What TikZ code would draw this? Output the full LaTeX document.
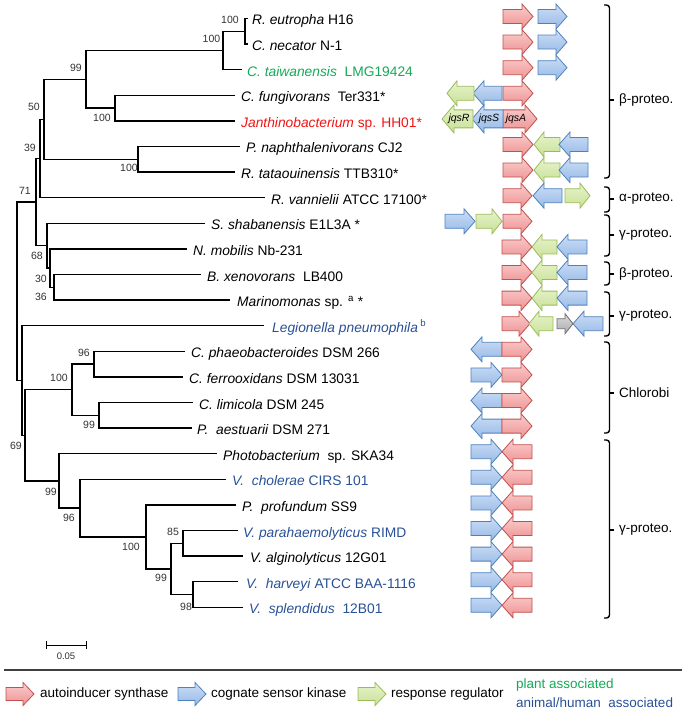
\documentclass[tikz,border=0pt]{standalone}
\usepackage{fontspec}
\setmainfont{Liberation Sans}
\definecolor{redline}{RGB}{192,80,77}
\definecolor{redtop}{RGB}{250,205,205}
\definecolor{redbot}{RGB}{238,145,145}
\definecolor{blueline}{RGB}{79,129,189}
\definecolor{bluetop}{RGB}{205,222,246}
\definecolor{bluebot}{RGB}{150,185,230}
\definecolor{greenline}{RGB}{155,187,89}
\definecolor{greentop}{RGB}{232,243,205}
\definecolor{greenbot}{RGB}{200,225,150}
\definecolor{grayline}{RGB}{110,110,110}
\definecolor{graytop}{RGB}{220,220,220}
\definecolor{graybot}{RGB}{170,170,170}
\definecolor{plantgreen}{RGB}{20,170,85}
\definecolor{hhred}{RGB}{240,20,20}
\definecolor{animalblue}{RGB}{40,80,150}
\newcommand\genearr[7][11]{% head length, style, tail x, tip x, y, body half, head half
  \pgfmathsetmacro\hbx{#4-#1*sign(#4-#3)}%
  \path[#2] (#3,{#5-#6}) -- (\hbx,{#5-#6}) -- (\hbx,{#5-#7}) -- (#4,#5) -- (\hbx,{#5+#7}) -- (\hbx,{#5+#6}) -- (#3,{#5+#6}) -- cycle;}
\newcommand\myga[4]{\genearr{#1}{#2}{#3}{#4}{7}{12.5}}
\newcommand\mygg[4]{\genearr[10]{#1}{#2}{#3}{#4}{7}{12.5}}
\newcommand\mylg[4]{\genearr[11]{#1}{#2}{#3}{#4}{6.5}{11.5}}
\begin{document}
\begin{tikzpicture}[x=1pt,y=-1pt,
  br/.style={line width=1.3pt, black},
  leaf/.style={anchor=base west, inner sep=0pt, font=\fontsize{13.8}{15}\selectfont},
  boot/.style={inner sep=0pt, text=black!80, font=\fontsize{10.5}{12}\selectfont},
  clade/.style={anchor=west, inner sep=0pt, font=\fontsize{13.5}{15}\selectfont},
  brk/.style={line width=1.4pt, rounded corners=3pt},
  redarr/.style={draw=redline, line width=0.8pt, top color=redtop, bottom color=redbot},
  bluearr/.style={draw=blueline, line width=0.8pt, top color=bluetop, bottom color=bluebot},
  greenarr/.style={draw=greenline, line width=0.8pt, top color=greentop, bottom color=greenbot},
  grayarr/.style={draw=grayline, line width=0.8pt, top color=graytop, bottom color=graybot},
  jqs/.style={inner sep=0pt, font=\fontsize{10.5}{12}\selectfont\itshape},
  legtext/.style={anchor=west, inner sep=0pt, font=\fontsize{13.5}{15}\selectfont}]
\useasboundingbox (0,0) rectangle (686,714);

% ---------- leaf end points ----------
\coordinate (L1) at (248,18.5);
\coordinate (L2) at (248,44.1);
\coordinate (L3) at (242,69.7);
\coordinate (L4) at (235,95.3);
\coordinate (L5) at (235,120.9);
\coordinate (L6) at (240,146.5);
\coordinate (L7) at (235,172.1);
\coordinate (L8) at (265,197.7);
\coordinate (L9) at (205,223.3);
\coordinate (L10) at (187,248.9);
\coordinate (L11) at (201,274.5);
\coordinate (L12) at (230,300.1);
\coordinate (L13) at (264,325.7);
\coordinate (L14) at (185,351.3);
\coordinate (L15) at (183,376.9);
\coordinate (L16) at (193,402.5);
\coordinate (L17) at (192,428.1);
\coordinate (L18) at (217,453.7);
\coordinate (L19) at (226,479.3);
\coordinate (L20) at (236,504.9);
\coordinate (L21) at (238,530.5);
\coordinate (L22) at (243,556.1);
\coordinate (L23) at (238,581.7);
\coordinate (L24) at (243,607.3);

% ---------- internal nodes ----------
\coordinate (A) at (245,31.3);
\coordinate (B) at (223,50.5);
\coordinate (C) at (115,108.1);
\coordinate (D) at (86,79.3);
\coordinate (E) at (138,159.3);
\coordinate (F) at (44,119.3);
\coordinate (G) at (40,158.5);
\coordinate (H) at (54,287.3);
\coordinate (N) at (50,268.1);
\coordinate (K) at (47,245.7);
\coordinate (M) at (36,202.1);
\coordinate (P) at (94,364.1);
\coordinate (Q) at (99,415.3);
\coordinate (Chl) at (72,389.7);
\coordinate (V85) at (183,543.3);
\coordinate (V98) at (193,594.5);
\coordinate (V99b) at (171,568.9);
\coordinate (V100) at (146,536.9);
\coordinate (V96) at (80,508.1);
\coordinate (V99) at (59,480.9);
\coordinate (N69) at (25,435.3);
\coordinate (X) at (22,380.5);
\coordinate (R) at (17,291.3);

\draw[br] (A) |- (L1) (A) |- (L2) (B) |- (A) (B) |- (L3)
  (C) |- (L4) (C) |- (L5) (D) |- (B) (D) |- (C)
  (E) |- (L6) (E) |- (L7) (F) |- (D) (F) |- (E)
  (G) |- (F) (G) |- (L8)
  (H) |- (L11) (H) |- (L12) (N) |- (L10) (N) |- (H)
  (K) |- (L9) (K) |- (N) (M) |- (G) (M) |- (K)
  (P) |- (L14) (P) |- (L15) (Q) |- (L16) (Q) |- (L17)
  (Chl) |- (P) (Chl) |- (Q)
  (V85) |- (L21) (V85) |- (L22) (V98) |- (L23) (V98) |- (L24)
  (V99b) |- (V85) (V99b) |- (V98) (V100) |- (L20) (V100) |- (V99b)
  (V96) |- (L19) (V96) |- (V100) (V99) |- (L18) (V99) |- (V96)
  (N69) |- (Chl) (N69) |- (V99) (X) |- (L13) (X) |- (N69)
  (R) |- (M) (R) |- (X);

% ---------- bootstrap values ----------
\node[boot] (b1) at (230,20) {100};
\node[boot] (b2) at (211.5,39) {100};
\node[boot] (b3) at (76,68) {99};
\node[boot] (b4) at (102,118) {100};
\node[boot] (b5) at (34,107) {50};
\node[boot] (b6) at (30,148) {39};
\node[boot] (b7) at (129,168) {100};
\node[boot] (b8) at (25,191) {71};
\node[boot] (b9) at (37,256) {68};
\node[boot] (b10) at (41,279) {30};
\node[boot] (b11) at (41,297) {36};
\node[boot] (b12) at (84,353) {96};
\node[boot] (b13) at (59,378) {100};
\node[boot] (b14) at (89,425) {99};
\node[boot] (b15) at (16,446) {69};
\node[boot] (b16) at (51,492) {99};
\node[boot] (b17) at (69,518) {96};
\node[boot] (b18) at (131,547) {100};
\node[boot] (b19) at (173,532) {85};
\node[boot] (b20) at (161,578) {99};
\node[boot] (b21) at (186,607) {98};

% ---------- leaf labels ----------
\node[leaf] (t1) at (252,25) {\textit{R. eutropha} H16};
\node[leaf] (t2) at (252,50.6) {\textit{C. necator} N-1};
\node[leaf, text=plantgreen] (t3) at (247,76.2) {\textit{C. taiwanensis}\ \ LMG19424};
\node[leaf] (t4) at (241,101.8) {\textit{C. fungivorans}\ \ Ter331*};
\node[leaf, text=hhred] (t5) at (241,127.4) {\textit{Janthinobacterium} sp. HH01*};
\node[leaf] (t6) at (246,153) {\textit{P. naphthalenivorans} CJ2};
\node[leaf] (t7) at (241,178.6) {\textit{R. tataouinensis} TTB310*};
\node[leaf] (t8) at (271,204.2) {\textit{R. vannielii} ATCC 17100*};
\node[leaf] (t9) at (211,229.8) {\textit{S. shabanensis} E1L3A *};
\node[leaf] (t10) at (193,255.4) {\textit{N. mobilis} Nb-231};
\node[leaf] (t11) at (207,281) {\textit{B. xenovorans}\ \ LB400};
\node[leaf] (t12) at (237,306.6) {\textit{Marinomonas} sp. \textsuperscript{a} *};
\node[leaf, text=animalblue] (t13) at (272,332.2) {\textit{Legionella pneumophila}\,\textsuperscript{b}};
\node[leaf] (t14) at (191,357.8) {\textit{C. phaeobacteroides} DSM 266};
\node[leaf] (t15) at (189,383.4) {\textit{C. ferrooxidans} DSM 13031};
\node[leaf] (t16) at (199,409) {\textit{C. limicola} DSM 245};
\node[leaf] (t17) at (197,434.6) {\textit{P.\ \ aestuarii} DSM 271};
\node[leaf] (t18) at (223,460.2) {\textit{Photobacterium}\ \ sp. SKA34};
\node[leaf, text=animalblue] (t19) at (232,485.8) {\textit{V.\ \ cholerae} CIRS 101};
\node[leaf] (t20) at (242,511.4) {\textit{P.\ \ profundum} SS9};
\node[leaf, text=animalblue] (t21) at (243,537) {\textit{V. parahaemolyticus} RIMD};
\node[leaf] (t22) at (250,562.6) {\textit{V. alginolyticus} 12G01};
\node[leaf, text=animalblue] (t23) at (246,588.2) {\textit{V.\ \ harveyi} ATCC BAA-1116};
\node[leaf, text=animalblue] (t24) at (249,613.8) {\textit{V.\ \ splendidus}\ \ 12B01};

% ---------- gene arrows ----------
\foreach \y in {16.5,42.1,67.7} {\myga{redarr}{503}{533}{\y}\myga{bluearr}{538}{567}{\y}}
% row 4
\myga{redarr}{503}{533}{93.3}\myga{bluearr}{502}{473}{93.3}\mygg{greenarr}{474}{447}{93.3}
% row 5 (Janthinobacterium)
\genearr[12]{redarr}{503}{537}{118.9}{9}{14}
\genearr[12]{bluearr}{503}{472}{118.9}{9}{14}
\genearr[12]{greenarr}{473}{442}{118.9}{9}{14}
\node[jqs] (jA) at (516,119) {jqsA};
\node[jqs] (jS) at (489,119) {jqsS};
\node[jqs] (jR) at (459,119) {jqsR};
% rows 6-7
\foreach \y in {144.5,170.1} {\myga{redarr}{503}{533}{\y}\mygg{greenarr}{560}{534}{\y}\myga{bluearr}{588}{559}{\y}}
% row 8
\myga{redarr}{503}{532}{195.7}\myga{bluearr}{562}{533}{195.7}\mygg{greenarr}{565}{590}{195.7}
% row 9
\myga{bluearr}{445}{475}{221.3}\mygg{greenarr}{476}{502}{221.3}\myga{redarr}{503}{532}{221.3}
% rows 10-12
\foreach \y in {246.9,272.5,298.1} {\myga{redarr}{502}{532}{\y}\mygg{greenarr}{557}{532}{\y}\myga{bluearr}{587}{557}{\y}}
% row 13
\myga{redarr}{502}{530}{323.7}\mygg{greenarr}{553}{529}{323.7}
\genearr[8]{grayarr}{557}{573}{323.7}{5}{10}
\myga{bluearr}{603}{573}{323.7}
% rows 14-17 (Chlorobi)
\foreach \y in {349.3,400.5,426.1} {\myga{bluearr}{502}{471}{\y}\myga{redarr}{502}{532}{\y}}
\myga{bluearr}{471}{502}{374.9}\myga{redarr}{502}{532}{374.9}
% rows 18-24
\foreach \y in {451.7,477.3,502.9,528.5,554.1,579.7,605.3} {\myga{bluearr}{471}{502}{\y}\myga{redarr}{532}{502}{\y}}

% ---------- clade brackets ----------
\foreach \t/\b/\m in {5/178/100, 187/212/199, 215/256/235, 262/285/274, 292/336/316, 342/433/393, 440/618/530}
  {\draw[brk] (604,\t) -- (609.5,\t) -- (609.5,\b) -- (604,\b); \draw[line width=1.4pt] (609.5,\m) -- (614,\m);}
\node[clade] (c1) at (619,100) {β-proteo.};
\node[clade] (c2) at (619,199) {α-proteo.};
\node[clade] (c3) at (619,235) {γ-proteo.};
\node[clade] (c4) at (619,274) {β-proteo.};
\node[clade] (c5) at (619,316) {γ-proteo.};
\node[clade] (c6) at (619,393) {Chlorobi};
\node[clade] (c7) at (619,530) {γ-proteo.};

% ---------- scale bar ----------
\coordinate (s1) at (46,645);
\coordinate (s2) at (86,645);
\draw[line width=1pt] (s1) -- (s2) ([yshift=-4pt]s1) -- ([yshift=4pt]s1) ([yshift=-4pt]s2) -- ([yshift=4pt]s2);
\node[boot, font=\fontsize{9.5}{11}\selectfont] (sc) at (66,656) {0.05};

% ---------- legend ----------
\coordinate (r1) at (4,670);
\coordinate (r2) at (682,670);
\draw[line width=1.5pt, black!75] (r1) -- (r2);
\mylg{redarr}{6}{34}{694}
\node[legtext] (lg1) at (40,694) {autoinducer synthase};
\mylg{bluearr}{178}{206}{694}
\node[legtext] (lg2) at (211,694) {cognate sensor kinase};
\mylg{greenarr}{358}{386}{694}
\node[legtext] (lg3) at (391,694) {response regulator};
\node[legtext, text=plantgreen] (lg4) at (516,685) {plant associated};
\node[legtext, text=animalblue] (lg5) at (516,703) {animal/human\ \ associated};
\end{tikzpicture}
\end{document}
